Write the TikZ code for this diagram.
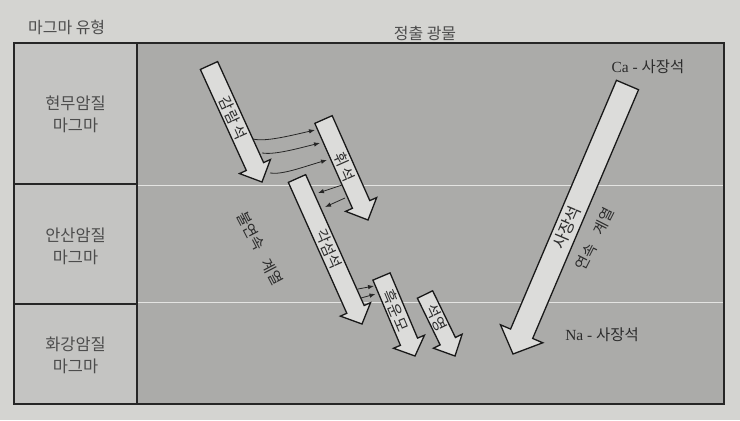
\documentclass[tikz,border=0pt]{standalone}
\usepackage{fontspec}
\setmainfont{Noto Sans CJK KR}
\newfontfamily\latinserif{Liberation Serif}
\usetikzlibrary{calc,arrows.meta}
\definecolor{paper}{HTML}{D4D4D1}
\definecolor{leftcol}{HTML}{C4C4C2}
\definecolor{panel}{HTML}{ABABA9}
\definecolor{arrowfill}{HTML}{DCDCDA}
\definecolor{ink}{HTML}{2C2C2C}
\definecolor{divider}{HTML}{E4E4E2}
\tikzset{
  barrow/.style={draw=black!90, line width=1.3bp, fill=arrowfill, line join=miter},
  conn/.style={draw=black!85, line width=0.8bp, -{Latex[length=6bp,width=4.5bp]}},
  alabel/.style={font=\fontsize{15}{15}\selectfont, text=ink, inner sep=0pt},
  blabel/.style={font=\fontsize{16.5}{16.5}\selectfont, text=ink, inner sep=0pt},
  rowlabel/.style={font=\fontsize{16.5}{22}\selectfont, text=ink!85, align=center, inner sep=0pt},
  headlabel/.style={font=\fontsize{16}{16}\selectfont, text=ink!85, inner sep=0pt},
  serieslabel/.style={font=\fontsize{15}{15}\selectfont, text=ink, inner sep=0pt},
  endlabel/.style={font=\fontsize{15.5}{15.5}\selectfont, text=ink, inner sep=0pt},
  frameline/.style={draw=black!85, line width=1.2bp},
  whiteline/.style={draw=divider, line width=1bp}
}
% #1 name, #2 tail centre, #3 tip, #4 half shaft width, #5 half head width, #6 head length
\newcommand\blockarrow[6]{%
  \coordinate (#1-t) at #2;
  \coordinate (#1-p) at #3;
  \coordinate (#1-h) at ($(#1-p)!#6!(#1-t)$);
  \draw[barrow] ($(#1-t)!#4!90:(#1-p)$) -- ($(#1-h)!#4!-90:(#1-t)$)
     -- ($(#1-h)!#5!-90:(#1-t)$) -- (#1-p) -- ($(#1-h)!#5!90:(#1-t)$)
     -- ($(#1-h)!#4!90:(#1-t)$) -- ($(#1-t)!#4!-90:(#1-p)$) -- cycle;
}
\begin{document}
\begin{tikzpicture}[x=1bp,y=-1bp]
  % background and table
  \fill[paper] (0,0) rectangle (740,420);
  \useasboundingbox (0,0) rectangle (740,420);
  \fill[leftcol] (14,43) rectangle (137,404);
  \fill[panel] (137,43) rectangle (724,404);
  \draw[whiteline] (137,185.5) -- (724,185.5);
  \draw[whiteline] (137,302) -- (724,302);
  \draw[frameline] (14,184) -- (137,184);
  \draw[frameline] (14,304) -- (137,304);
  \draw[frameline] (137,43) -- (137,404);
  \draw[frameline] (14,43) rectangle (724,404);

  % headings
  \node[headlabel, anchor=west] (hmag) at (28,27) {마그마 유형};
  \node[headlabel] (hmin) at (425,33) {정출 광물};

  % row labels
  \node[rowlabel] (basalt) at (75.5,114) {현무암질\\마그마};
  \node[rowlabel] (andesite) at (75.5,246) {안산암질\\마그마};
  \node[rowlabel] (granite) at (75.5,355) {화강암질\\마그마};

  % block arrows
  \blockarrow{ol}{(209,65.5)}{(262,182)}{9.5bp}{17bp}{17bp}
  \blockarrow{px}{(323.5,119.5)}{(368,220)}{9.5bp}{17bp}{17bp}
  \blockarrow{hb}{(297,178.5)}{(362,324)}{9.5bp}{16.5bp}{16bp}
  \blockarrow{bt}{(381.5,276.5)}{(415,356)}{9.3bp}{16.8bp}{15.5bp}
  \blockarrow{qz}{(425,294.5)}{(455,356)}{8.5bp}{16bp}{16.5bp}
  \blockarrow{pl}{(627.5,85)}{(513,354)}{12bp}{23bp}{22bp}

  % arrow labels
  \path (ol-t) -- (ol-p) node[alabel, sloped, pos=0.45] (olL) {감\hspace{2bp}람\hspace{2bp}석};
  \path (px-t) -- (px-p) node[alabel, sloped, pos=0.47] (pxL) {휘\hspace{3bp}석};
  \path (hb-t) -- (hb-p) node[alabel, sloped, pos=0.485] (hbL) {각섬석};
  \path (bt-t) -- (bt-p) node[alabel, sloped, pos=0.43] (btL) {흑\hspace{1.5bp}운\hspace{1.5bp}모};
  \path (qz-t) -- (qz-p) node[alabel, sloped, pos=0.38] (qzL) {석영};
  \path (pl-t) -- (pl-p) node[blabel, sloped, pos=0.53] (plL) {사장석};

  % connector end points
  \coordinate (a1s) at (253,139);   \coordinate (a1e) at (315,130);
  \coordinate (a2s) at (262,153);   \coordinate (a2e) at (320,143);
  \coordinate (a3s) at (270,173);   \coordinate (a3e) at (327,160);
  \coordinate (b1s) at (342,185);   \coordinate (b1e) at (318,193);
  \coordinate (b2s) at (345,198);   \coordinate (b2e) at (325,207);
  \coordinate (c1s) at (358,289);   \coordinate (c1e) at (374,286);
  \coordinate (c2s) at (361,298);   \coordinate (c2e) at (375.5,294);

  % olivine -> pyroxene
  \draw[conn] (a1s) .. controls +(12,3) and +(-26,6) .. (a1e);
  \draw[conn] (a2s) .. controls +(12,2) and +(-24,6) .. (a2e);
  \draw[conn] (a3s) .. controls +(12,2) and +(-24,7) .. (a3e);
  % pyroxene -> amphibole
  \draw[conn] (b1s) -- (b1e);
  \draw[conn] (b2s) -- (b2e);
  % amphibole -> biotite
  \draw[conn] (c1s) -- (c1e);
  \draw[conn] (c2s) -- (c2e);

  % series labels
  \node[serieslabel, rotate=-62.5] (disc) at (260,248.5) {불연속\hspace{0.8em}계열};
  \node[serieslabel, rotate=63] (cont) at (595,239) {연속\hspace{0.8em}계열};

  % end member labels
  \node[endlabel] (ca) at (648,67) {{\latinserif Ca - }사장석};
  \node[endlabel] (na) at (602,335) {{\latinserif Na - }사장석};
\end{tikzpicture}
\end{document}
